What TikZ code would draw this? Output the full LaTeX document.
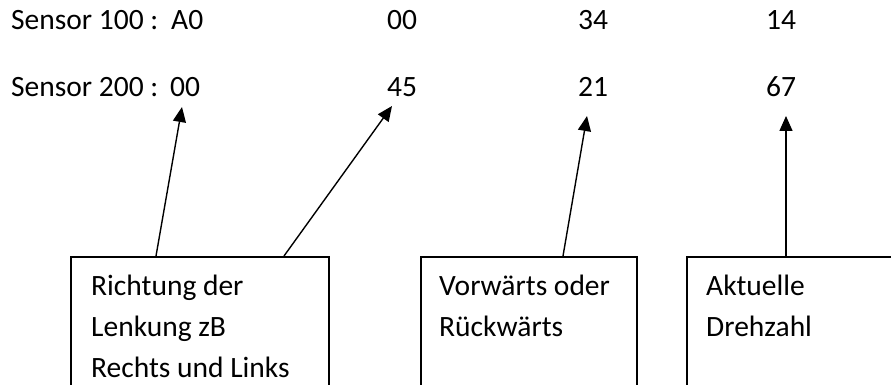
\documentclass[tikz,border=0pt]{standalone}
\usepackage{fontspec}
\setmainfont{Carlito}
\usetikzlibrary{arrows.meta}
\begin{document}
\begin{tikzpicture}[x=1pt,y=-1pt,
  txt/.style={anchor=base west,inner sep=0pt,font=\fontsize{29.5}{41}\selectfont},
  box/.style={draw=black,line width=1.6pt,rectangle,anchor=north west,inner sep=0pt},
  arr/.style={draw=black,line width=1.4pt,-{Triangle[length=15pt,width=13pt]}}]
\useasboundingbox (0,0) rectangle (891,385);
\clip (0,0) rectangle (891,385);
% rows
\node[txt] (s1) at (11,30) {Sensor 100 :};
\node[txt] (a1) at (171,30) {A0};
\node[txt] (a2) at (387,30) {00};
\node[txt] (a3) at (578,30) {34};
\node[txt] (a4) at (766,30) {14};
\node[txt] (s2) at (11,97) {Sensor 200 :};
\node[txt] (b1) at (170,97) {00};
\node[txt] (b2) at (387,97) {45};
\node[txt] (b3) at (578,97) {21};
\node[txt] (b4) at (766,97) {67};
% boxes
\node[box,minimum width=258pt,minimum height=160pt] (k1) at (70,256) {};
\node[box,minimum width=216pt,minimum height=160pt] (k2) at (420,256) {};
\node[box,minimum width=260pt,minimum height=160pt] (k3) at (686,256) {};
% box texts
\node[txt] (t11) at (91,295) {Richtung der};
\node[txt] (t12) at (91,336) {Lenkung zB};
\node[txt] (t13) at (91,377) {Rechts und Links};
\node[txt] (t21) at (439,295) {Vorwärts oder};
\node[txt] (t22) at (439,336) {Rückwärts};
\node[txt] (t31) at (706,295) {Aktuelle};
\node[txt] (t32) at (706,336) {Drehzahl};
% arrow ends
\coordinate (p1) at (156,256);
\coordinate (q1) at (182,107);
\coordinate (p2) at (284,256);
\coordinate (q2) at (392,106);
\coordinate (p3) at (563,256);
\coordinate (q3) at (587,116);
\coordinate (p4) at (786,256);
\coordinate (q4) at (786,116);
\draw[arr] (p1) -- (q1);
\draw[arr] (p2) -- (q2);
\draw[arr] (p3) -- (q3);
\draw[arr] (p4) -- (q4);
\end{tikzpicture}
\end{document}
